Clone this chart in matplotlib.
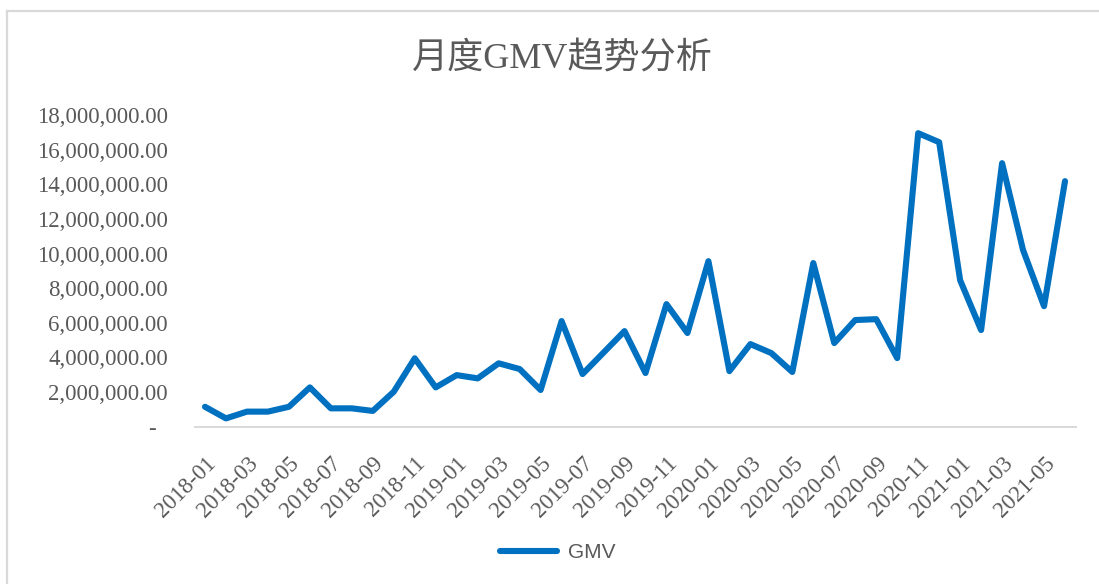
import matplotlib
matplotlib.use('Agg')
import matplotlib.pyplot as plt
from matplotlib.lines import Line2D
from matplotlib.ticker import FuncFormatter

# monthly GMV, 2018-01 .. 2021-06
months = [f'{y}-{m:02d}' for y in range(2018, 2022) for m in range(1, 13)][:42]
gmv = [
    1150000, 480000, 870000, 870000, 1150000, 2270000,
    1060000, 1060000, 910000, 2020000, 3950000, 2270000,
    2980000, 2790000, 3660000, 3330000, 2120000, 6100000,
    3040000, 4280000, 5520000, 3100000, 7080000, 5410000,
    9560000, 3210000, 4770000, 4250000, 3160000, 9450000,
    4830000, 6160000, 6210000, 3960000, 16950000, 16430000,
    8460000, 5580000, 15220000, 10200000, 6960000, 14180000,
]
y_ticks = list(range(0, 18000001, 2000000))

grey = '#595959'
line_col = '#0070C0'
serif = ['Liberation Serif', 'Noto Sans CJK SC']

W, H = 1099, 584
fig = plt.figure(figsize=(W / 100, H / 100), dpi=100)

# plot area in pixels: x 194.5..1075.5, y 115..426.7
ax = fig.add_axes([194.5 / W, 1 - 426.7 / H, 881 / W, 311.7 / H])
x = list(range(len(months)))
ax.plot(x, gmv, color=line_col, lw=4.4, solid_joinstyle='round',
        solid_capstyle='round', label='GMV', clip_on=False)

ax.set_xlim(-0.5, len(months) - 0.5)
ax.set_ylim(0, 18000000)
ax.set_yticks(y_ticks)
ax.yaxis.set_major_formatter(FuncFormatter(
    lambda v, p: '-  ' if v == 0 else f'{v:,.2f}'))
ax.set_xticks(x[::2])
ax.set_xticklabels(months[::2], rotation=45, ha='right', va='top',
                   rotation_mode='anchor')

for s in ['top', 'right', 'left']:
    ax.spines[s].set_visible(False)
ax.spines['bottom'].set_color('#d9d9d9')
ax.spines['bottom'].set_linewidth(1.4)

ax.tick_params(axis='y', length=0, pad=19, labelsize=16.5, labelcolor=grey)
ax.tick_params(axis='x', length=0, pad=19, labelsize=16.5, labelcolor=grey)
for t in ax.get_xticklabels() + ax.get_yticklabels():
    t.set_family(serif)

fig.text(562 / W, 1 - 59 / H, '月度GMV趋势分析', ha='center', va='center',
         fontsize=26, color=grey, family=serif)

fig.legend(loc='center', bbox_to_anchor=(558 / W, 1 - 553 / H), frameon=False,
           prop={'family': 'Liberation Sans', 'size': 15}, labelcolor=grey,
           handlelength=2.7, handletextpad=0.55)

# chart border (only left and top edges are inside the picture)
fig.add_artist(Line2D([7 / W, 7 / W], [0, 1 - 11 / H], transform=fig.transFigure,
                      color='#d9d9d9', lw=1.6))
fig.add_artist(Line2D([7 / W, 1], [1 - 11 / H, 1 - 11 / H], transform=fig.transFigure,
                      color='#d9d9d9', lw=1.6))

fig.savefig('out.png', dpi=100)
